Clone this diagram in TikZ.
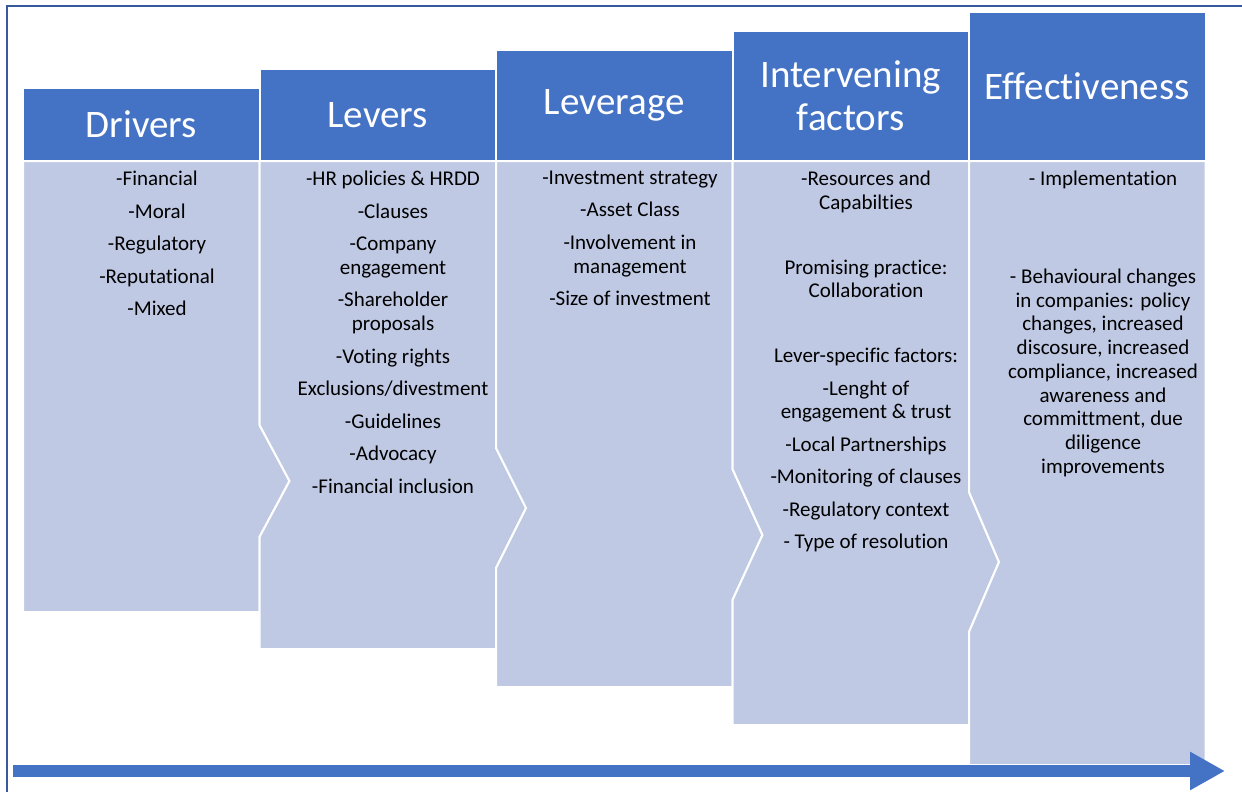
\documentclass[tikz,border=0pt]{standalone}
\usepackage{fontspec}
\setmainfont{Carlito}[Ligatures=CommonOff]
\usetikzlibrary{positioning,arrows.meta}
\definecolor{headblue}{RGB}{68,114,196}
\definecolor{bodyblue}{RGB}{191,201,228}
\definecolor{frameblue}{RGB}{55,88,155}
\pgfdeclarelayer{background}
\pgfsetlayers{background,main}
\tikzset{
  pathwaypic/.style={
    x=1pt
    ,y=-1pt
    ,inner sep=0pt
    ,outer sep=0pt
  }
  ,headbox/.style={
    draw=white, line width=2pt,
    fill=headblue,
    minimum width=236.5pt,
    anchor=south west,
    align=center,
    font={\fontsize{39}{43}\selectfont\color{white}}
  }
  ,bodybox/.style={draw=white, line width=2pt, fill=bodyblue}
  ,itemlist/.style={
    anchor=north,
    align=center,
    font={\fontsize{21}{23.75}\selectfont\color{black}}
  }
  ,timeline/.style={draw=headblue, line width=12pt, -{Triangle[length=35pt,width=36pt]}}
  ,outerframe/.style={draw=frameblue, line width=2pt}
}

\begin{document}
\begin{tikzpicture}[pathwaypic]
    \useasboundingbox (0,0) rectangle (1242,792);
    \draw[outerframe] (7,792) -- (7,6) -- (1242,6);

    % stage headers, stepping up to the right
    \node[headbox,minimum height=73pt] (drvhead) at (23,161) {Drivers};
    \node[headbox,minimum height=92pt] (levhead) at (drvhead.south east) {Levers};
    \node[headbox,minimum height=111pt] (lvghead) at (levhead.south east) {Leverage};
    \node[headbox,minimum height=130pt] (inthead) at (lvghead.south east) {Intervening\\factors};
    \node[headbox,minimum height=149pt] (effhead) at (inthead.south east) {Effectiveness};

    % stage bodies, each pointing into the next one
    \begin{pgfonlayer}{background}
      \path[bodybox] (23,161) -- (259.5,161) -- (259.5,425) -- (289.5,481)
        -- (259.5,537) -- (259.5,612) -- (23,612) -- cycle;
      \path[bodybox] (259.5,161) -- (496,161) -- (496,448) -- (526,508)
        -- (496,568) -- (496,649) -- (259.5,649) -- (259.5,537)
        -- (289.5,481) -- (259.5,425) -- cycle;
      \path[bodybox] (496,161) -- (732.5,161) -- (732.5,469) -- (762.5,535)
        -- (732.5,600) -- (732.5,687) -- (496,687) -- (496,568)
        -- (526,508) -- (496,448) -- cycle;
      \path[bodybox] (732.5,161) -- (969,161) -- (969,492) -- (999,562)
        -- (969,632) -- (969,725) -- (732.5,725) -- (732.5,600)
        -- (762.5,535) -- (732.5,469) -- cycle;
      \path[bodybox] (969,161) -- (1205.5,161) -- (1205.5,765) -- (969,765)
        -- (969,632) -- (999,562) -- (969,492) -- cycle;
    \end{pgfonlayer}

    % items
    \node[itemlist] (drvitems) at (157,171) {-Financial\\[8.75pt]-Moral\\[8.75pt]-Regulatory\\[8.75pt]-Reputational\\[8.75pt]-Mixed};
    \node[itemlist] (levitems) at (393,171) {-HR policies \& HRDD\\[8.75pt]-Clauses\\[8.75pt]-Company\\engagement\\[8.75pt]-Shareholder\\proposals\\[8.75pt]-Voting rights\\[8.75pt]Exclusions/divestment\\[8.75pt]-Guidelines\\[8.75pt]-Advocacy\\[8.75pt]-Financial inclusion};
    \node[itemlist] (lvgitems) at (630,171) {-Investment strategy\\[8.75pt]-Asset Class\\[8.75pt]-Involvement in\\management\\[8.75pt]-Size of investment};
    \node[itemlist] (intitems) at (866,171) {-Resources and\\Capabilties\\[41pt]Promising practice:\\Collaboration\\[41pt]Lever-specific factors:\\[8.75pt]-Lenght of\\engagement \& trust\\[8.75pt]-Local Partnerships\\[8.75pt]-Monitoring of clauses\\[8.75pt]-Regulatory context\\[8.75pt]- Type of resolution};
    \node[itemlist] (effitems) at (1103,171) {- Implementation\\[74pt]- Behavioural changes\\in companies: policy\\changes, increased\\discosure, increased\\compliance, increased\\awareness and\\committment, due\\diligence\\improvements};

    % time arrow
    \coordinate (timestart) at (13,771);
    \coordinate (timeend) at (1225,771);
    \draw[timeline] (timestart) -- (timeend);
\end{tikzpicture}
\end{document}
